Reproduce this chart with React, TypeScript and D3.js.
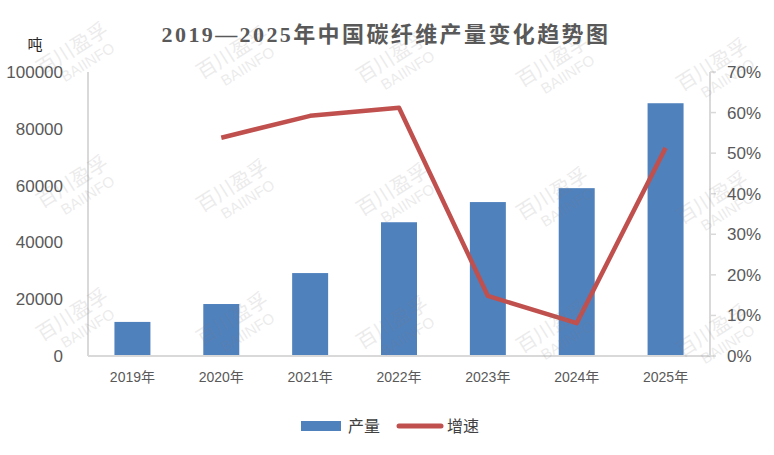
import React from "react";
import { scaleBand, scaleLinear, line } from "d3";

const years = ["2019年", "2020年", "2021年", "2022年", "2023年", "2024年", "2025年"];
const output = [12000, 18300, 29200, 47100, 54200, 59100, 89000];
const growth: (number | null)[] = [null, 0.538, 0.592, 0.612, 0.148, 0.081, 0.513];
const leftTicks = [0, 20000, 40000, 60000, 80000, 100000];
const rightTicks = [0, 0.1, 0.2, 0.3, 0.4, 0.5, 0.6, 0.7];

const W = 774;
const H = 455;
const plot = { left: 88, right: 710, top: 72, bottom: 356 };

const axisColor = "#d9d9d9";
const labelColor = "#595959";
const barColor = "#4f81bd";
const lineColor = "#c0504d";
const sans = "'Liberation Sans', Arial, 'Noto Sans CJK SC', sans-serif";
const serif = "'Liberation Serif', 'Noto Sans CJK SC', serif";

const Watermark: React.FC<{ x: number; y: number }> = ({ x, y }) => (
  <g transform={`translate(${x},${y}) rotate(-32)`} fill="#7f7f7f" opacity={0.15}>
    <text textAnchor="middle" y={-4} fontSize={20} fontFamily="'Noto Sans CJK SC', sans-serif">
      百川盈孚
    </text>
    <text textAnchor="middle" y={14} x={6} fontSize={15} fontFamily={sans}>
      BAIINFO
    </text>
  </g>
);

export default function App() {
  const x = scaleBand<string>()
    .domain(years)
    .range([plot.left, plot.right])
    .paddingInner(0.595)
    .paddingOuter(0.2975);
  const yL = scaleLinear().domain([0, 100000]).range([plot.bottom, plot.top]);
  const yR = scaleLinear().domain([0, 0.7]).range([plot.bottom, plot.top]);

  const growthPath = line<number | null>()
    .defined((d) => d !== null)
    .x((_, i) => x(years[i])! + x.bandwidth() / 2)
    .y((d) => yR(d as number))(growth);

  const marks: [number, number][] = [];
  for (let r = 0; r < 3; r++) {
    for (let c = 0; c < 5; c++) {
      marks.push([78 + c * 160, 58 + r * 133 + c * 4]);
    }
  }

  return (
    <div style={{ position: "fixed", left: 0, top: 0 }}>
      <svg width={W} height={H} style={{ display: "block", background: "#fff" }}>
        <text
          x={386}
          y={42}
          textAnchor="middle"
          fontSize={22}
          letterSpacing={2.4}
          fontWeight="bold"
          fill={labelColor}
          fontFamily={serif}
        >
          2019—2025年中国碳纤维产量变化趋势图
        </text>
        <text x={35} y={50} textAnchor="middle" fontSize={15} fill="#262626" fontFamily={serif}>
          吨
        </text>

        {/* left axis */}
        <line x1={plot.left} x2={plot.left} y1={plot.top} y2={plot.bottom} stroke={axisColor} strokeWidth={2} />
        {leftTicks.map((t) => (
          <text
            key={t}
            x={63}
            y={yL(t)}
            dy="0.35em"
            textAnchor="end"
            fontSize={17}
            fill={labelColor}
            fontFamily={sans}
          >
            {t}
          </text>
        ))}

        {/* right axis */}
        <line x1={plot.right} x2={plot.right} y1={plot.top} y2={plot.bottom} stroke={axisColor} strokeWidth={2} />
        {rightTicks.map((t) => (
          <g key={t}>
            <line x1={plot.right} x2={plot.right + 6} y1={yR(t)} y2={yR(t)} stroke={axisColor} strokeWidth={1.5} />
            <text x={727} y={yR(t)} dy="0.35em" fontSize={17} fill={labelColor} fontFamily={sans}>
              {Math.round(t * 100)}%
            </text>
          </g>
        ))}

        {/* bars */}
        {years.map((yr, i) => (
          <rect
            key={yr}
            x={x(yr)}
            y={yL(output[i])}
            width={x.bandwidth()}
            height={plot.bottom - yL(output[i])}
            fill={barColor}
          />
        ))}

        {/* x axis */}
        <line x1={plot.left} x2={plot.right} y1={plot.bottom} y2={plot.bottom} stroke={axisColor} strokeWidth={2} />
        {years.map((yr) => (
          <text
            key={yr}
            x={x(yr)! + x.bandwidth() / 2}
            y={377}
            dy="0.35em"
            textAnchor="middle"
            fontSize={14}
            fill={labelColor}
            fontFamily={sans}
          >
            {yr}
          </text>
        ))}

        <path d={growthPath!} fill="none" stroke={lineColor} strokeWidth={4.5} strokeLinejoin="round" />

        {/* legend */}
        <rect x={301} y={421} width={40} height={10} fill={barColor} />
        <text x={348} y={426} dy="0.35em" fontSize={16} fill="#404040" fontFamily={serif}>
          产量
        </text>
        <line x1={399} x2={441} y1={426} y2={426} stroke={lineColor} strokeWidth={5} strokeLinecap="round" />
        <text x={447} y={426} dy="0.35em" fontSize={16} fill="#404040" fontFamily={serif}>
          增速
        </text>

        {marks.map(([mx, my], i) => (
          <Watermark key={i} x={mx} y={my} />
        ))}
      </svg>
    </div>
  );
}
